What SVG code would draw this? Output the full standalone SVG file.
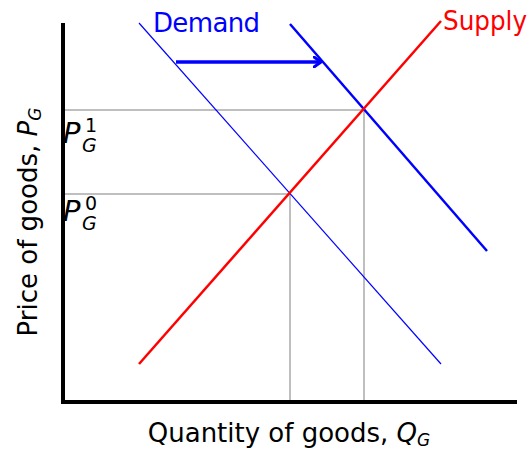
<svg xmlns="http://www.w3.org/2000/svg" width="531" height="454" viewBox="0 0 531 454">
<style>
text{font-family:"DejaVu Sans","Liberation Sans",sans-serif;}
.guide{stroke:#aaaaaa;stroke-width:1.5;fill:none}
.axis{stroke:#000;stroke-width:4;fill:none}
.it{font-style:italic}
.big{font-size:29px;font-style:italic}
.small{font-size:19px}
</style>
<defs>
<marker id="chev" markerWidth="10" markerHeight="12" refX="8" refY="6" orient="auto" markerUnits="userSpaceOnUse">
<path d="M1,1 L8,6 L1,11" fill="none" stroke="#0000ff" stroke-width="3" stroke-linecap="round" stroke-linejoin="round"/>
</marker>
</defs>
<g id="connectors">
<line class="guide" x1="63" y1="110" x2="364" y2="110"/>
<line class="guide" x1="63" y1="194" x2="290" y2="194"/>
<line class="guide" x1="290" y1="194" x2="290" y2="402"/>
<line class="guide" x1="364" y1="110" x2="364" y2="402"/>
<line x1="139" y1="23" x2="441" y2="364" stroke="#0000ff" stroke-width="1.2"/>
<line x1="290" y1="24" x2="487" y2="251" stroke="#0000ff" stroke-width="2.5"/>
<line x1="139" y1="364" x2="441" y2="21" stroke="#ff0000" stroke-width="2.5"/>
<line x1="176" y1="62" x2="321" y2="62" stroke="#0000ff" stroke-width="3.5" marker-end="url(#chev)"/>
<polyline class="axis" points="63,23 63,402 517,402"/>
</g>
<g id="demand-label"><text x="153" y="32" font-size="26" fill="#0000ff" textLength="107">Demand</text></g>
<g id="supply-label"><text x="443" y="30" font-size="26" fill="#ff0000" textLength="84" lengthAdjust="spacingAndGlyphs">Supply</text></g>
<g id="p1">
<text x="63" y="143" class="big">P</text>
<text x="85" y="132" class="small">1</text>
<text x="82" y="152" class="small it">G</text>
</g>
<g id="p0">
<text x="63" y="221" class="big">P</text>
<text x="85" y="210" class="small">0</text>
<text x="82" y="230" class="small it">G</text>
</g>
<g id="ylabel"><text transform="translate(37,222) rotate(-90)" text-anchor="middle" font-size="26">Price of goods, <tspan class="it">P</tspan><tspan class="it" font-size="17" dy="4">G</tspan></text></g>
<g id="xlabel"><text x="289" y="442" text-anchor="middle" font-size="26">Quantity of goods, <tspan class="it">Q</tspan><tspan class="it" font-size="17" dy="4">G</tspan></text></g>
</svg>
